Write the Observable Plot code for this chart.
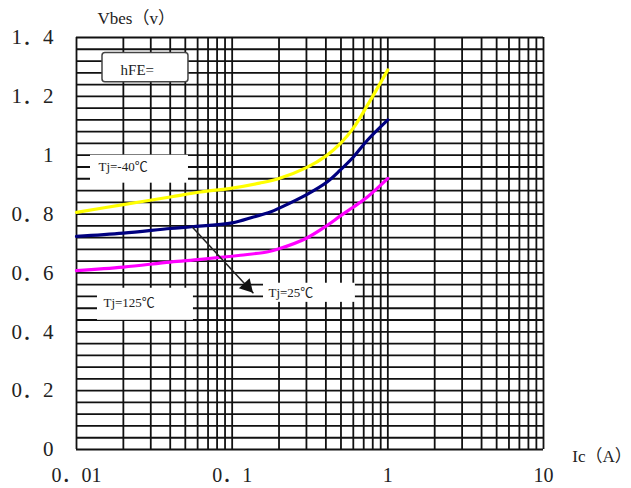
<!DOCTYPE html>
<html>
<head>
<meta charset="utf-8">
<script src="https://cdn.jsdelivr.net/npm/d3@7"></script>
<script src="https://cdn.jsdelivr.net/npm/@observablehq/plot@0.6"></script>
<style>
  html, body { margin: 0; padding: 0; background: #fff; }
  #chart svg { display: block; }
</style>
</head>
<body>
<div id="chart"></div>
<script>
// ---- data ----
const icMinus40 = [0.01, 0.02, 0.04, 0.0626, 0.1, 0.15, 0.2, 0.3, 0.4, 0.5, 0.6, 0.74, 1.0];
const vMinus40  = [0.806, 0.832, 0.858, 0.875, 0.888, 0.905, 0.921, 0.958, 0.997, 1.042, 1.092, 1.17, 1.29];

const ic25 = [0.01, 0.02, 0.04, 0.055, 0.1, 0.137, 0.176, 0.204, 0.305, 0.409, 0.496, 0.601, 0.739, 1.0];
const v25  = [0.724, 0.735, 0.751, 0.757, 0.77, 0.79, 0.807, 0.822, 0.868, 0.91, 0.95, 0.994, 1.051, 1.12];

const ic125 = [0.01, 0.02, 0.04, 0.063, 0.113, 0.17, 0.2, 0.3, 0.409, 0.496, 0.601, 0.739, 1.0];
const v125  = [0.608, 0.62, 0.637, 0.646, 0.66, 0.672, 0.682, 0.718, 0.762, 0.794, 0.824, 0.858, 0.921];

const xTickValues = [0.01, 0.1, 1, 10];
const xTickLabels = ["0．01", "0．1", "1", "10"];
const yTickValues = [0, 0.2, 0.4, 0.6, 0.8, 1, 1.2, 1.4];
const yTickLabels = ["0", "0．2", "0．4", "0．6", "0．8", "1", "1．2", "1．4"];

const xGrid = [0.01,0.02,0.03,0.04,0.05,0.06,0.07,0.08,0.09,
               0.1,0.2,0.3,0.4,0.5,0.6,0.7,0.8,0.9,
               1,2,3,4,5,6,7,8,9,10];
const yGrid = d3.range(36).map(i => +(i * 0.04).toFixed(2));

const seriesNames = ["Tj=-40℃", "Tj=25℃", "Tj=125℃"];
const seriesColors = ["#ffff00", "#000080", "#ff00ff"];

// ---- annotations (data units) ----
const whiteBoxes = [
  {x1: 0.0123, x2: 0.0524, y1: 0.905, y2: 1.0},
  {x1: 0.01364, x2: 0.0564, y1: 0.439, y2: 0.548},
  {x1: 0.159, x2: 0.619, y1: 0.5, y2: 0.565}
];
const hfeBox = [{x1: 0.01469, x2: 0.0524, y1: 1.248, y2: 1.347}];
const notes = [
  {x: 0.01384, y: 0.959, t: "Tj=-40℃"},
  {x: 0.0149, y: 0.497, t: "Tj=125℃"},
  {x: 0.171, y: 0.531, t: "Tj=25℃"}
];
const hfeNote = [{x: 0.0192, y: 1.289, t: "hFE="}];
const arrowLine = [{x1: 0.0556, y1: 0.755, x2: 0.137, y2: 0.531}];
const axisTitles = [
  {x: 0.01364, y: 1.465, t: "Vbes（v）"},
  {x: 15.3, y: -0.024, t: "Ic（A）"}
];

// ---- build rows ----
function rows(xs, ys, name) { return xs.map((x, i) => ({x, y: ys[i], s: name})); }
const curveData = [
  ...rows(icMinus40, vMinus40, seriesNames[0]),
  ...rows(ic25, v25, seriesNames[1]),
  ...rows(ic125, v125, seriesNames[2])
];
const xLab = new Map(xTickValues.map((v, i) => [v, xTickLabels[i]]));
const yLab = new Map(yTickValues.map((v, i) => [v, yTickLabels[i]]));

const serif = "'Liberation Serif', 'Noto Sans CJK SC', serif";

const chart = Plot.plot({
  width: 631,
  height: 488,
  marginLeft: 76,
  marginRight: 88,
  marginTop: 37,
  marginBottom: 39,
  style: {background: "#fff", fontFamily: serif, color: "#222"},
  x: {type: "log", domain: [0.01, 10]},
  y: {domain: [0, 1.4]},
  color: {domain: seriesNames, range: seriesColors},
  marks: [
    Plot.ruleX(xGrid, {stroke: "#111", strokeWidth: 1.8}),
    Plot.ruleY(yGrid, {stroke: "#111", strokeWidth: 1.8}),
    Plot.rect(whiteBoxes, {x1: "x1", x2: "x2", y1: "y1", y2: "y2", fill: "#fff"}),
    Plot.rect(hfeBox, {x1: "x1", x2: "x2", y1: "y1", y2: "y2", fill: "#fff", stroke: "#444", strokeWidth: 1.5, rx: 3}),
    Plot.line(curveData, {x: "x", y: "y", z: "s", stroke: "s", strokeWidth: 3.2, curve: "catmull-rom"}),
    Plot.text(notes, {x: "x", y: "y", text: "t", textAnchor: "start", fontSize: 13, fill: "#222"}),
    Plot.text(hfeNote, {x: "x", y: "y", text: "t", textAnchor: "start", fontSize: 15, fill: "#222"}),
    Plot.link(arrowLine, {x1: "x1", y1: "y1", x2: "x2", y2: "y2", stroke: "#222", strokeWidth: 1.5}),
    Plot.dot(arrowLine, {x: "x2", y: "y2", symbol: "triangle", r: 5.5, fill: "#111", stroke: "none", rotate: 137, dx: -6.3, dy: -6.8}),
    Plot.text(axisTitles, {x: "x", y: "y", text: "t", textAnchor: "start", fontSize: 17, fill: "#222"}),
    Plot.axisX(xTickValues, {tickSize: 0, tickPadding: 18, fontSize: 20, tickFormat: d => xLab.get(d), label: null, fill: "#222"}),
    Plot.axisY(yTickValues, {tickSize: 0, tickPadding: 23, fontSize: 21, tickFormat: d => yLab.get(d), label: null, fill: "#222"})
  ]
});
document.getElementById("chart").appendChild(chart);
</script>
</body>
</html>
